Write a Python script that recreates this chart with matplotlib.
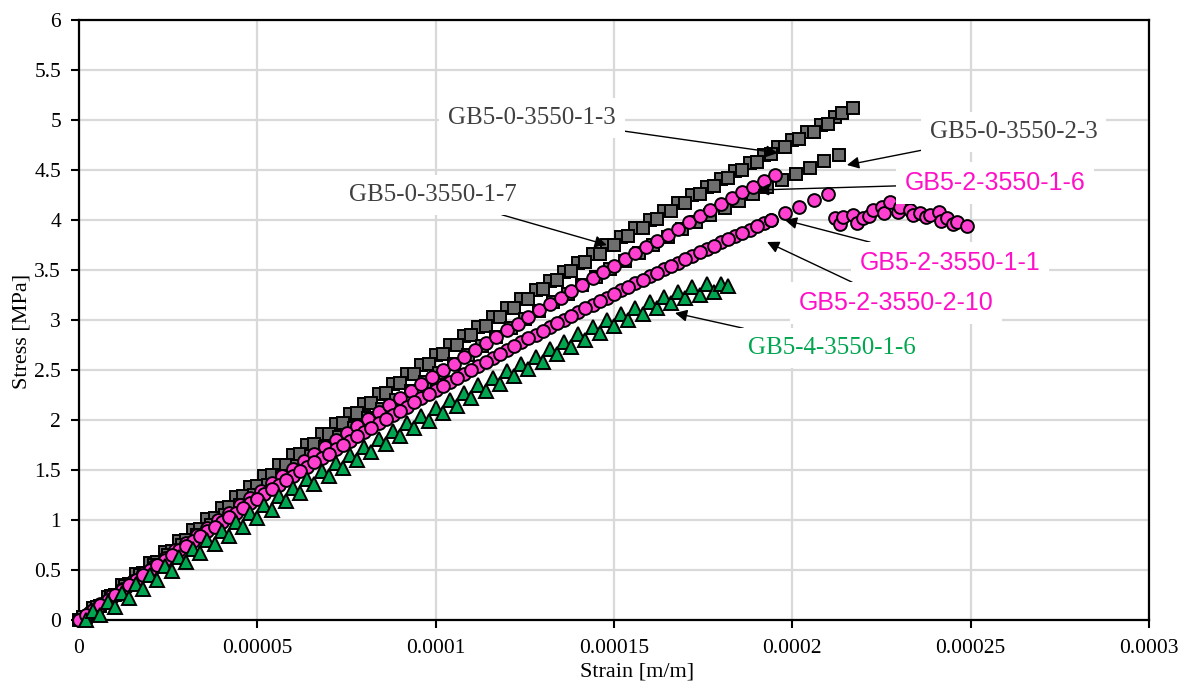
import matplotlib
matplotlib.use("Agg")
import matplotlib.pyplot as plt
import numpy as np

# ---------------- data (strain in micro-strain, stress in MPa) ----------------
eps_0_1_3 = [0, 4, 8, 12, 16, 20, 24, 28, 32, 36, 40, 44, 48, 52, 56, 60, 64, 68, 72, 76,
             80, 84, 88, 92, 96, 100, 104, 108, 112, 116, 120, 124, 128, 132, 136, 140, 144,
             148, 152, 156, 160, 164, 168, 172, 176, 180, 184, 188, 192, 196, 200, 204, 208,
             212, 214, 217]
sig_0_1_3 = [0.00, 0.12, 0.23, 0.35, 0.46, 0.57, 0.68, 0.79, 0.90, 1.01, 1.12, 1.23, 1.33,
             1.44, 1.55, 1.65, 1.75, 1.86, 1.96, 2.06, 2.16, 2.26, 2.36, 2.46, 2.55, 2.65,
             2.75, 2.84, 2.93, 3.03, 3.12, 3.21, 3.30, 3.39, 3.48, 3.57, 3.66, 3.75, 3.83,
             3.92, 4.00, 4.09, 4.17, 4.25, 4.33, 4.41, 4.49, 4.57, 4.65, 4.73, 4.80, 4.88,
             4.95, 5.03, 5.07, 5.12]

eps_0_1_7 = [2, 6, 10, 14, 18, 22, 26, 30, 34, 38, 42, 46, 50, 54, 58, 62, 66, 70, 74, 78,
             82, 86, 90, 94, 98, 102, 106, 110, 114, 118, 122, 126, 130, 134, 138, 142, 146,
             150, 154, 158, 162, 166, 170, 174, 178, 182, 186, 190, 194, 198, 202, 206, 210]
sig_0_1_7 = [0.03, 0.14, 0.25, 0.36, 0.47, 0.58, 0.69, 0.80, 0.91, 1.02, 1.13, 1.24, 1.34,
             1.45, 1.55, 1.66, 1.76, 1.86, 1.97, 2.07, 2.17, 2.27, 2.37, 2.46, 2.56, 2.66,
             2.75, 2.85, 2.94, 3.03, 3.12, 3.21, 3.31, 3.40, 3.49, 3.58, 3.66, 3.75, 3.84,
             3.92, 4.01, 4.09, 4.17, 4.26, 4.34, 4.42, 4.50, 4.58, 4.66, 4.73, 4.81, 4.88,
             4.96]

eps_0_2_3 = [1, 5, 9, 13, 17, 21, 25, 29, 33, 37, 41, 45, 49, 53, 57, 61, 65, 69, 73, 77,
             81, 85, 89, 93, 97, 101, 105, 109, 113, 117, 121, 125, 129, 133, 137, 141, 145,
             149, 153, 157, 161, 165, 169, 173, 177, 181, 185, 189, 193, 197, 201, 205, 209,
             213]
sig_0_2_3 = [0.03, 0.13, 0.24, 0.34, 0.45, 0.55, 0.65, 0.75, 0.85, 0.95, 1.05, 1.15, 1.25,
             1.35, 1.44, 1.54, 1.64, 1.73, 1.83, 1.92, 2.02, 2.11, 2.20, 2.29, 2.38, 2.47,
             2.56, 2.65, 2.74, 2.83, 2.92, 3.01, 3.09, 3.18, 3.26, 3.35, 3.43, 3.51, 3.59,
             3.67, 3.75, 3.83, 3.91, 3.98, 4.05, 4.12, 4.19, 4.26, 4.33, 4.40, 4.46, 4.52,
             4.59, 4.65]

eps_2_1_6 = [0, 3, 6, 9, 12, 15, 18, 21, 24, 27, 30, 33, 36, 39, 42, 45, 48, 51, 54, 57,
             60, 63, 66, 69, 72, 75, 78, 81, 84, 87, 90, 93, 96, 99, 102, 105, 108, 111, 114,
             117, 120, 123, 126, 129, 132, 135, 138, 141, 144, 147, 150, 153, 156, 159, 162,
             165, 168, 171, 174, 177, 180, 183, 186, 189, 192, 195]
sig_2_1_6 = [0.00, 0.08, 0.16, 0.24, 0.31, 0.39, 0.47, 0.54, 0.62, 0.70, 0.77, 0.85, 0.92,
             1.00, 1.07, 1.15, 1.22, 1.29, 1.37, 1.44, 1.51, 1.59, 1.66, 1.73, 1.80, 1.87,
             1.94, 2.01, 2.08, 2.15, 2.22, 2.29, 2.36, 2.43, 2.50, 2.56, 2.63, 2.70, 2.77,
             2.83, 2.90, 2.96, 3.03, 3.10, 3.16, 3.22, 3.29, 3.35, 3.42, 3.48, 3.54, 3.61,
             3.67, 3.73, 3.79, 3.85, 3.91, 3.98, 4.04, 4.10, 4.16, 4.22, 4.28, 4.33, 4.39,
             4.45]

eps_2_2_10 = [0, 4, 8, 12, 16, 20, 24, 28, 32, 36, 40, 44, 48, 52, 56, 60, 64, 68, 72, 76,
              80, 84, 88, 92, 96, 100, 104, 108, 112, 116, 120, 124, 128, 132, 136, 140, 144,
              148, 152, 156, 160, 164, 168, 172, 176, 180, 184, 188, 192, 194]
sig_2_2_10 = [0.00, 0.10, 0.20, 0.30, 0.40, 0.50, 0.60, 0.70, 0.79, 0.89, 0.98, 1.07, 1.17,
              1.26, 1.35, 1.44, 1.53, 1.62, 1.71, 1.79, 1.88, 1.97, 2.05, 2.13, 2.22, 2.30,
              2.38, 2.46, 2.54, 2.62, 2.70, 2.78, 2.85, 2.93, 3.00, 3.08, 3.15, 3.22, 3.30,
              3.37, 3.44, 3.51, 3.57, 3.64, 3.71, 3.78, 3.84, 3.90, 3.97, 4.00]

eps_2_1_1 = [2, 6, 10, 14, 18, 22, 26, 30, 34, 38, 42, 46, 50, 54, 58, 62, 66, 70, 74, 78,
             82, 86, 90, 94, 98, 102, 106, 110, 114, 118, 122, 126, 130, 134, 138, 142, 146,
             150, 154, 158, 162, 166, 170, 174, 178, 182, 186, 190, 194, 198, 202, 206, 210,
             212.0, 213.5, 214.3, 217.1, 218.0, 219.9, 221.5, 222.7, 225.1, 225.8, 227.4,
             229.5, 230.2, 233.0, 233.8, 235.8, 237.5, 238.6, 241.0, 241.8, 243.3, 245.0,
             246.1, 248.9]
sig_2_1_1 = [0.05, 0.15, 0.25, 0.35, 0.45, 0.55, 0.65, 0.74, 0.84, 0.93, 1.03, 1.12, 1.21,
             1.31, 1.40, 1.49, 1.58, 1.66, 1.75, 1.84, 1.92, 2.01, 2.09, 2.18, 2.26, 2.34,
             2.42, 2.50, 2.58, 2.66, 2.74, 2.82, 2.89, 2.97, 3.04, 3.12, 3.19, 3.26, 3.33,
             3.40, 3.47, 3.54, 3.61, 3.68, 3.74, 3.81, 3.87, 3.94, 4.00, 4.07, 4.13, 4.20,
             4.26,
             4.02, 3.96, 4.03, 4.05, 3.97, 4.02, 4.04, 4.10, 4.13, 4.07, 4.18, 4.08, 4.13,
             4.10, 4.05, 4.07, 4.03, 4.05, 4.08, 3.99, 4.02, 3.96, 3.98, 3.94]

eps_4_1_6 = [2, 4, 6, 8, 10, 12, 14, 16, 18, 20, 22, 24, 26, 28, 30, 32, 34, 36, 38, 40,
             42, 44, 46, 48, 50, 52, 54, 56, 58, 60, 62, 64, 66, 68, 70, 72, 74, 76, 78, 80,
             82, 84, 86, 88, 90, 92, 94, 96, 98, 100, 102, 104, 106, 108, 110, 112, 114, 116,
             118, 120, 122, 124, 126, 128, 130, 132, 134, 136, 138, 140, 142, 144, 146, 148,
             150, 152, 154, 156, 158, 160, 162, 164, 166, 168, 170, 172, 174, 176, 178, 180,
             182]
sig_4_1_6 = [0.00, 0.09, 0.05, 0.18, 0.13, 0.27, 0.22, 0.36, 0.31, 0.45, 0.40, 0.54, 0.49,
             0.63, 0.58, 0.71, 0.67, 0.80, 0.76, 0.89, 0.84, 0.98, 0.93, 1.07, 1.02, 1.15,
             1.10, 1.24, 1.19, 1.32, 1.27, 1.41, 1.36, 1.49, 1.44, 1.57, 1.52, 1.65, 1.60,
             1.73, 1.68, 1.81, 1.76, 1.89, 1.84, 1.97, 1.92, 2.04, 1.99, 2.12, 2.07, 2.20,
             2.14, 2.27, 2.22, 2.35, 2.29, 2.42, 2.36, 2.49, 2.44, 2.56, 2.51, 2.63, 2.58,
             2.71, 2.66, 2.78, 2.73, 2.86, 2.80, 2.93, 2.87, 3.00, 2.94, 3.06, 3.00, 3.12,
             3.06, 3.18, 3.12, 3.23, 3.17, 3.28, 3.22, 3.33, 3.25, 3.36, 3.28, 3.36, 3.34]

x_ticks = [0, 0.00005, 0.0001, 0.00015, 0.0002, 0.00025, 0.0003]
x_tick_labels = ["0", "0.00005", "0.0001", "0.00015", "0.0002", "0.00025", "0.0003"]
y_ticks = [0, 0.5, 1, 1.5, 2, 2.5, 3, 3.5, 4, 4.5, 5, 5.5, 6]
y_tick_labels = ["0", "0.5", "1", "1.5", "2", "2.5", "3", "3.5", "4", "4.5", "5", "5.5", "6"]

# ---------------- styling ----------------
GRAY = "#6e6e6e"
PINK = "#ff40d0"
GREEN = "#00a550"
SERIF = ["Liberation Serif", "DejaVu Serif"]
SANS = ["Liberation Sans", "DejaVu Sans"]

W, H = 1180, 684
fig = plt.figure(figsize=(W / 100, H / 100), dpi=100)
ax = fig.add_axes([79 / W, 64 / H, 1070 / W, 600 / H])
ax.set_xlim(0, 0.0003)
ax.set_ylim(0, 6)

ax.set_xticks(x_ticks)
ax.set_xticklabels(x_tick_labels)
ax.set_yticks(y_ticks)
ax.set_yticklabels(y_tick_labels)
for lab in ax.get_xticklabels() + ax.get_yticklabels():
    lab.set_family(SERIF)
    lab.set_fontsize(15.5)
ax.tick_params(direction="out", length=6, width=1.5, color="black")
ax.tick_params(axis="x", pad=8)
ax.tick_params(axis="y", pad=7)
ax.grid(True, color="#d9d9d9", lw=1.6)
ax.set_axisbelow(True)
for sp in ax.spines.values():
    sp.set_color("black")
    sp.set_linewidth(1.6)

def series(eps, sig, marker, face, ms):
    ax.plot(np.array(eps) * 1e-6, sig, ls="none", marker=marker, ms=ms,
            mfc=face, mec="black", mew=1.4, clip_on=False, zorder=3)

series(eps_0_1_3, sig_0_1_3, "s", GRAY, 8.3)
series(eps_0_1_7, sig_0_1_7, "s", GRAY, 8.3)
series(eps_0_2_3, sig_0_2_3, "s", GRAY, 8.3)
series(eps_2_1_6, sig_2_1_6, "o", PINK, 9.2)
series(eps_2_2_10, sig_2_2_10, "o", PINK, 9.2)
series(eps_2_1_1, sig_2_1_1, "o", PINK, 9.2)
series(eps_4_1_6, sig_4_1_6, "^", GREEN, 9.5)

def label(text, xy, xytext, color, family):
    ax.annotate(text, xy=xy, xytext=xytext, ha="center", va="center",
                fontsize=18, color=color, family=family, zorder=5,
                bbox=dict(boxstyle="square,pad=0.35", fc="white", ec="none"),
                arrowprops=dict(arrowstyle="-|>", color="black", lw=1.0,
                                mutation_scale=18, shrinkA=0, shrinkB=0))

label("GB5-0-3550-1-3", (0.000196, 4.67), (0.0001270, 5.02), "#404040", SERIF)
label("GB5-0-3550-2-3", (0.0002153, 4.55), (0.0002621, 4.88), "#404040", SERIF)
label("GB5-0-3550-1-7", (0.000148, 3.75), (0.0000993, 4.25), "#404040", SERIF)
label("GB5-2-3550-1-6", (0.0001901, 4.30), (0.0002568, 4.37), "#ff10c8", SANS)
label("GB5-2-3550-1-1", (0.0001979, 4.00), (0.0002442, 3.57), "#ff10c8", SANS)
label("GB5-2-3550-2-10", (0.0001929, 3.78), (0.0002291, 3.17), "#ff10c8", SANS)
label("GB5-4-3550-1-6", (0.0001671, 3.07), (0.0002111, 2.72), GREEN, SERIF)

fig.text(637 / W, 1 - 672 / H, "Strain [m/m]", ha="center", va="center",
         fontsize=16, family=SERIF)
fig.text(22 / W, 1 - 331 / H, "Stress [MPa]", ha="center", va="center",
         rotation=90, fontsize=16, family=SERIF)

fig.savefig("out.png", dpi=100, facecolor="white")
